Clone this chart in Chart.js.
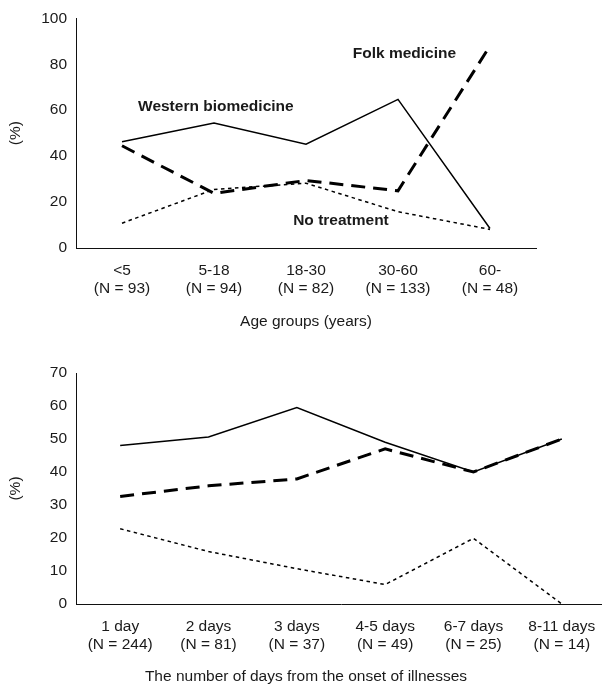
<!DOCTYPE html>
<html><head><meta charset="utf-8">
<script src="https://cdn.jsdelivr.net/npm/chart.js@4.4.1/dist/chart.umd.min.js"></script>
<style>
html,body{margin:0;padding:0;background:#fff;width:602px;height:687px;overflow:hidden;position:relative;}
#c1{position:absolute;left:0;top:0;}
#c2{position:absolute;left:0;top:340px;}
</style></head><body>
<canvas id="c1" width="602" height="340"></canvas>
<canvas id="c2" width="610" height="347"></canvas>
<script>
// ---- Data: age groups chart ----
const ageGroups = [['<5','(N = 93)'],['5-18','(N = 94)'],['18-30','(N = 82)'],['30-60','(N = 133)'],['60-','(N = 48)']];
const ageWestern = [46.3, 54.4, 45.2, 64.7, 8.5];
const ageFolk    = [44.5, 23.8, 29.4, 24.9, 88];
const ageNone    = [10.8, 25.5, 28.2, 15.8, 8.1];
const ageTicks   = [0, 20, 40, 60, 80, 100];
const ageSeriesNames = ['Western biomedicine', 'Folk medicine', 'No treatment'];

// ---- Data: days from onset chart ----
const dayGroups = [['1 day','(N = 244)'],['2 days','(N = 81)'],['3 days','(N = 37)'],['4-5 days','(N = 49)'],['6-7 days','(N = 25)'],['8-11 days','(N = 14)']];
const dayWestern = [48, 50.6, 59.5, 49, 40, 50];
const dayFolk    = [32.6, 35.8, 37.9, 47, 40, 50];
const dayNone    = [22.8, 15.9, 10.7, 5.9, 19.9, 0];
const dayTicks   = [0, 10, 20, 30, 40, 50, 60, 70];

const FONT = '"Liberation Sans", Arial, Helvetica, sans-serif';
const TXT = '#1a1a1a';
Chart.defaults.font.family = FONT;
Chart.defaults.color = TXT;

const textPlugin = {
  id: 'texts',
  afterDraw(chart, args, opts) {
    const ctx = chart.ctx;
    ctx.save();
    (opts.items || []).forEach(it => {
      ctx.font = it.font;
      ctx.fillStyle = TXT;
      ctx.textAlign = 'center';
      ctx.textBaseline = 'middle';
      let x = it.x, y = it.y;
      if (it.data) {
        x = chart.scales.x.getPixelForValue(it.x);
        y = chart.scales.y.getPixelForValue(it.y);
      }
      ctx.fillText(it.text, x, y);
    });
    ctx.restore();
  }
};

function ds(data, style) {
  return Object.assign({
    data, borderColor: '#000', pointRadius: 0, pointHoverRadius: 0,
    tension: 0, fill: false, borderCapStyle: 'butt', borderJoinStyle: 'miter'
  }, style);
}
const westernStyle = { borderWidth: 1.5, borderDash: [] };
const folkStyle    = { borderWidth: 3, borderDash: [14, 8] };
const noneStyle    = { borderWidth: 1.5, borderDash: [3.5, 3.5] };

function makeOptions(cfg) {
  return {
    responsive: false,
    devicePixelRatio: 1,
    animation: false,
    events: [],
    layout: { padding: cfg.padding },
    plugins: {
      legend: { display: false },
      tooltip: { enabled: false },
      texts: { items: cfg.texts }
    },
    scales: {
      x: {
        type: 'category',
        offset: true,
        grid: { display: false, drawTicks: false },
        border: { display: true, color: '#111', width: 1 },
        ticks: { color: TXT, font: { size: 15.5, lineHeight: 1.2 }, padding: 13, maxRotation: 0, minRotation: 0, autoSkip: false },
        title: cfg.xTitle ? { display: true, text: cfg.xTitle, color: TXT, font: { size: 15.5, lineHeight: 1.2 }, padding: { top: 0, bottom: 9 } } : { display: false },
        afterFit: s => { s.height = cfg.xHeight; }
      },
      y: {
        min: 0, max: cfg.yMax,
        grid: { display: false, drawTicks: false },
        border: { display: true, color: '#111', width: 1 },
        ticks: { color: TXT, font: { size: 15.5 }, padding: 9 },
        afterBuildTicks: s => { s.ticks = cfg.yTicks.map(v => ({ value: v })); },
        title: { display: true, text: '(%)', color: TXT, font: { size: 15.5, lineHeight: 1.2 }, padding: { top: 6, bottom: 0 } },
        afterFit: s => { s.width = 76; }
      }
    }
  };
}

new Chart(document.getElementById('c1'), {
  type: 'line',
  data: {
    labels: ageGroups,
    datasets: [ds(ageWestern, westernStyle), ds(ageFolk, folkStyle), ds(ageNone, noneStyle)]
  },
  options: makeOptions({
    padding: { top: 17, right: 66, left: 0, bottom: 0 },
    xHeight: 92,
    yMax: 100,
    yTicks: ageTicks,
    xTitle: 'Age groups (years)',
    texts: [
      { text: ageSeriesNames[0], data: true, x: 1.02, y: 61.5, font: 'bold 15.5px ' + FONT },
      { text: ageSeriesNames[1], data: true, x: 3.07, y: 84.5, font: 'bold 15.5px ' + FONT },
      { text: ageSeriesNames[2], data: true, x: 2.38, y: 11.8, font: 'bold 15.5px ' + FONT }
    ]
  }),
  plugins: [textPlugin]
});

new Chart(document.getElementById('c2'), {
  type: 'line',
  data: {
    labels: dayGroups,
    datasets: [ds(dayWestern, westernStyle), ds(dayFolk, folkStyle), ds(dayNone, noneStyle)]
  },
  options: makeOptions({
    padding: { top: 33, right: 4, left: 0, bottom: 0 },
    xHeight: 83,
    yMax: 70,
    yTicks: dayTicks,
    xTitle: null,
    texts: [
      { text: 'The number of days from the onset of illnesses', data: false, x: 306, y: 337, font: '15.5px ' + FONT }
    ]
  }),
  plugins: [textPlugin]
});
</script>
</body></html>
